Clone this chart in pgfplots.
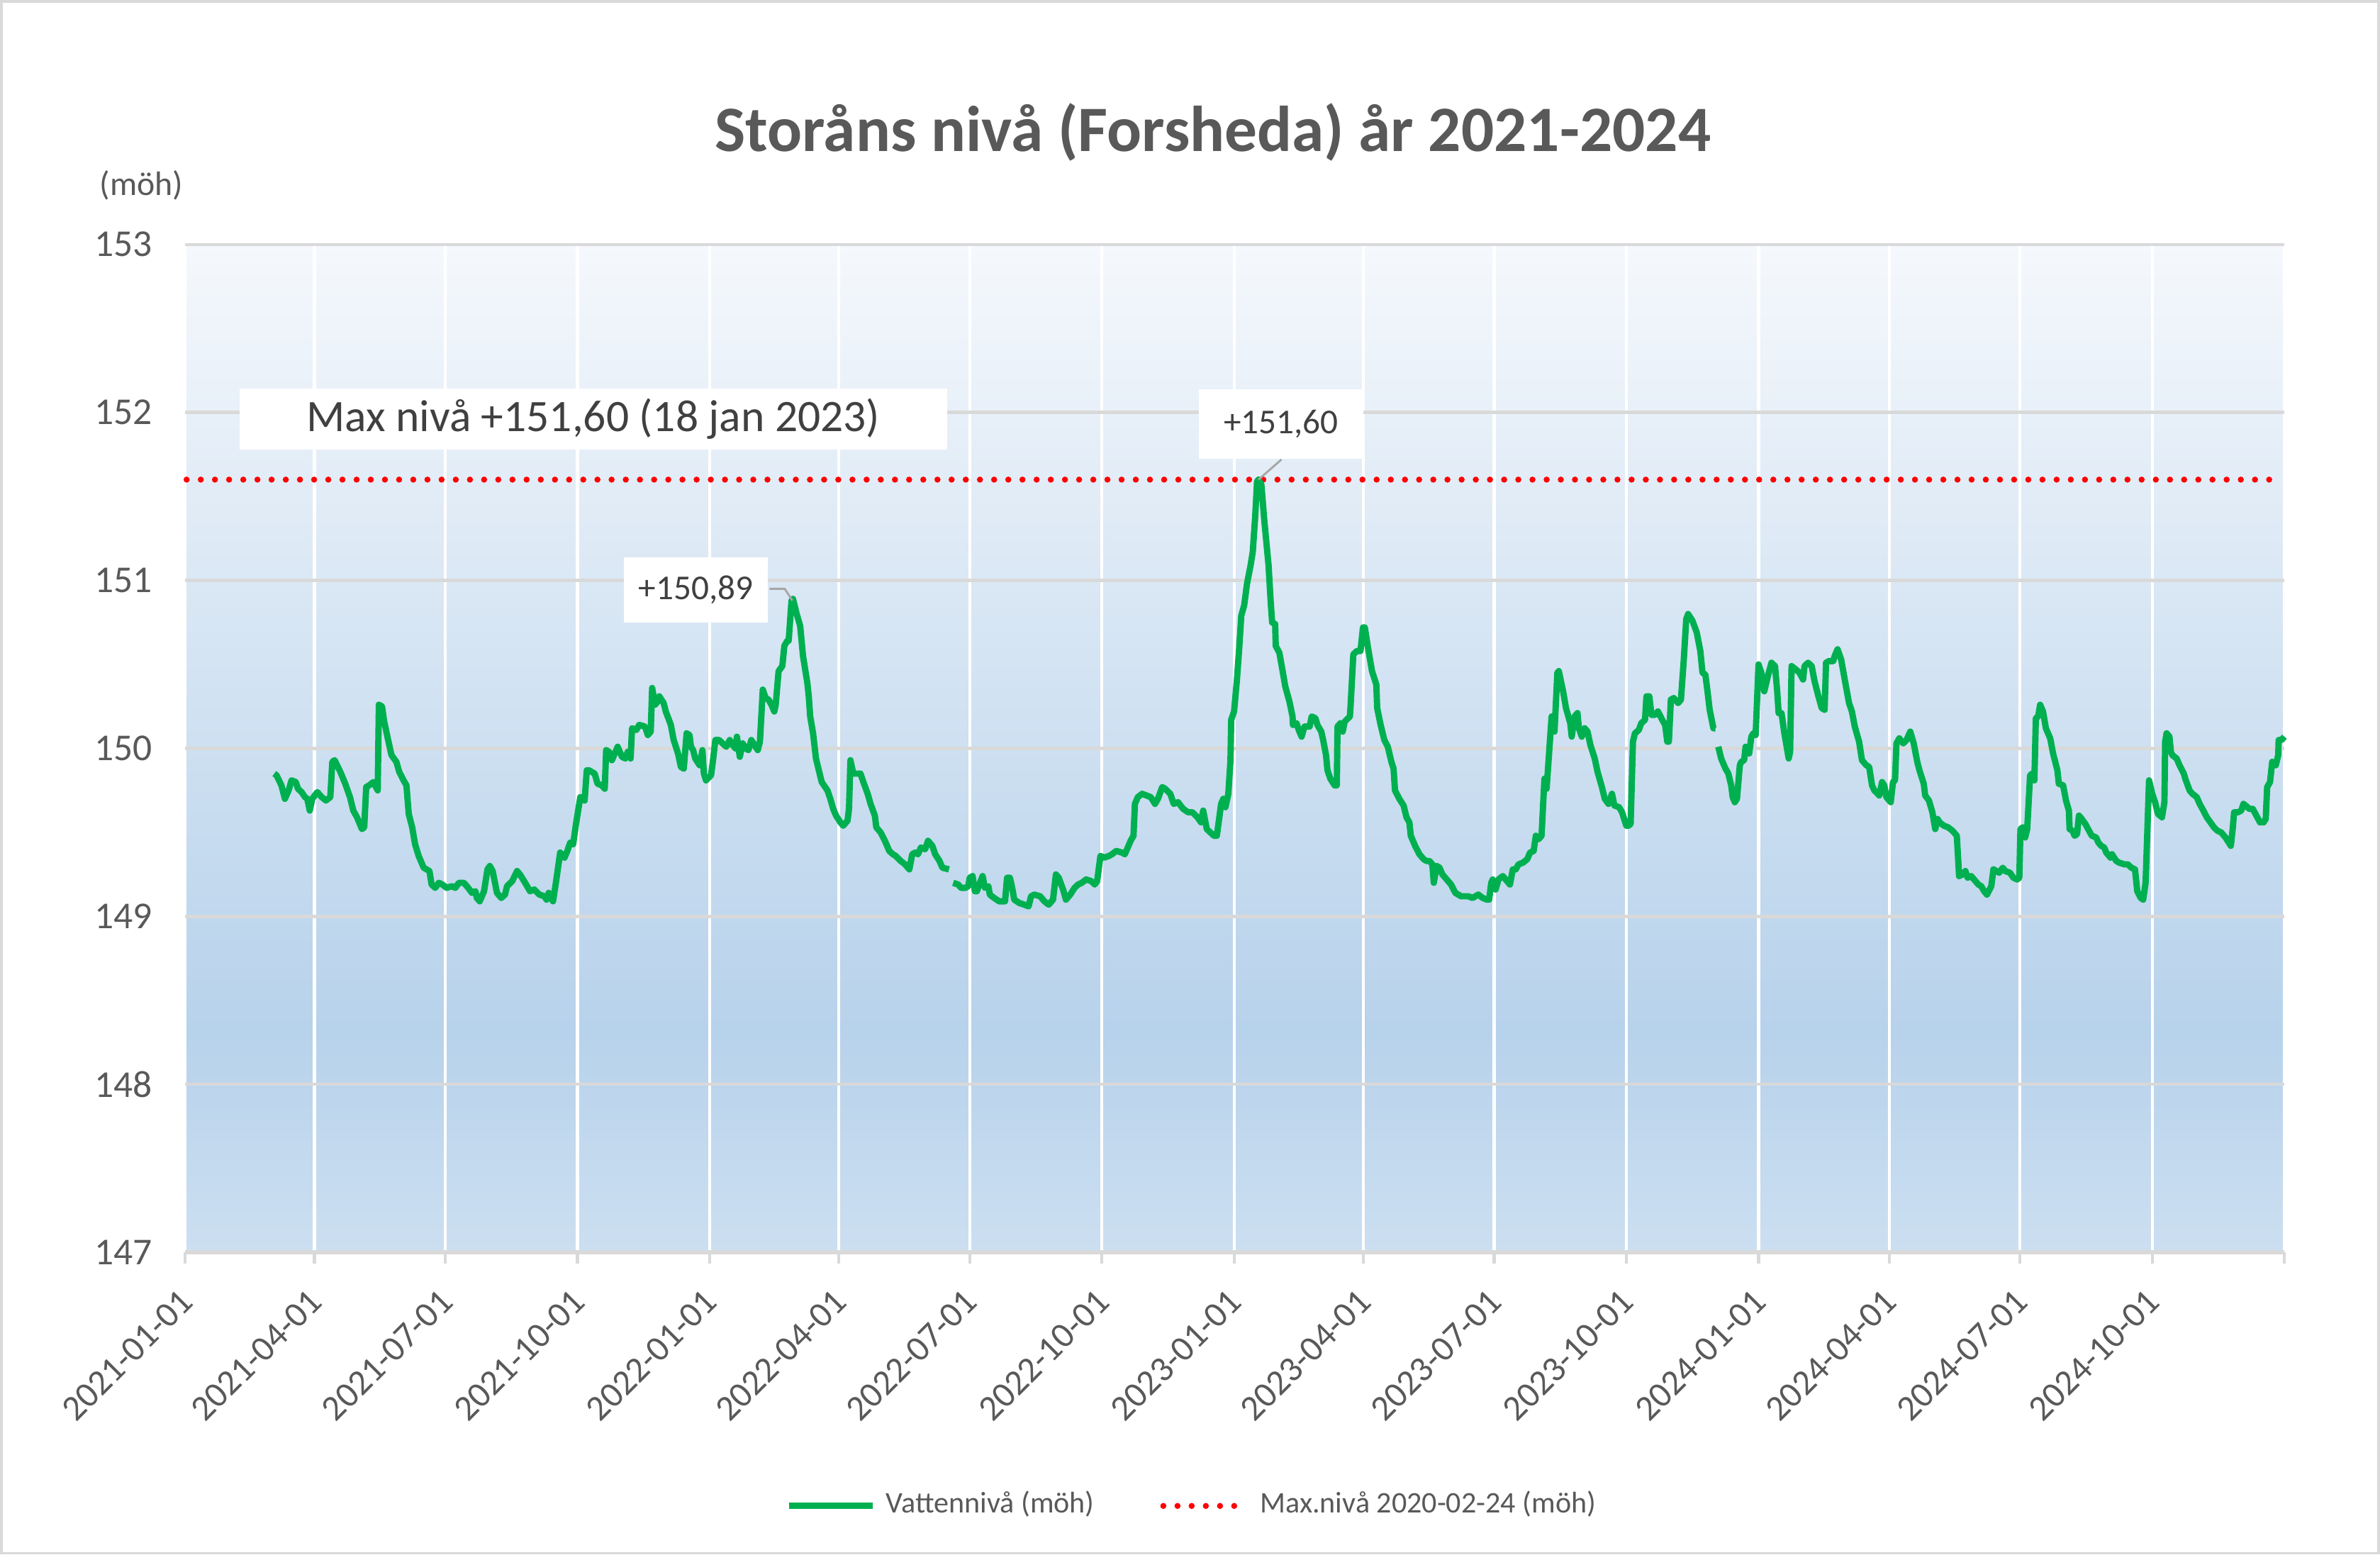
\documentclass[border=0pt]{standalone}
\usepackage{fontspec}
\setmainfont{Carlito}
\usepackage{pgfplots}
\usepackage{pgfplotstable}
\pgfplotsset{compat=1.18}
\definecolor{lgreen}{HTML}{00B050}
\definecolor{lred}{HTML}{FF0000}
\definecolor{txtgray}{HTML}{595959}
\definecolor{anngray}{HTML}{404040}
\definecolor{gridgray}{HTML}{D9D9D9}
\definecolor{bgtop}{HTML}{F5F8FC}
\definecolor{bgmid}{HTML}{B7D2EB}
\definecolor{bgbot}{HTML}{CCDFF1}
\pgfdeclareverticalshading{plotbg}{100bp}{color(0bp)=(bgbot); color(25bp)=(bgbot); color(36bp)=(bgmid); color(75bp)=(bgtop); color(100bp)=(bgtop)}

\pgfplotstableread{
day level
62 149.85
63.6 149.84
67 149.78
69.4 149.70
72 149.75
74 149.81
77 149.80
78.5 149.76
81 149.74
83.4 149.71
85 149.70
86.7 149.63
88.4 149.70
92 149.74
95 149.71
98 149.69
101 149.71
102.4 149.92
104 149.93
108 149.86
111.4 149.79
114.7 149.71
117 149.63
119.6 149.59
123 149.52
124.6 149.53
126 149.77
128 149.78
131 149.80
134 149.75
134.8 150.26
137 150.25
138.5 150.16
141 150.06
143.6 149.96
147 149.92
149 149.86
152 149.81
154 149.78
155.6 149.61
158 149.53
160 149.43
162.5 149.36
166 149.29
170 149.27
171.5 149.19
174 149.17
176.5 149.20
179 149.19
182 149.17
185.6 149.18
188 149.17
190.5 149.20
194 149.20
197 149.17
199.6 149.14
202 149.15
203 149.11
205 149.09
208 149.15
210.4 149.28
212 149.30
214 149.27
217 149.14
220 149.11
222.6 149.13
224 149.18
227.6 149.21
231 149.27
233 149.25
236.6 149.20
240 149.15
243 149.16
246.5 149.13
250 149.12
251.5 149.10
253 149.14
256 149.09
258 149.20
259 149.26
261 149.38
264 149.35
266 149.39
268 149.44
270 149.43
272 149.55
275 149.71
278 149.69
279.5 149.87
281 149.87
285 149.85
287 149.79
290 149.78
292 149.76
293 149.99
295 149.98
297 149.93
301 150.01
304 149.95
306.4 149.94
308 149.98
310 149.94
311 150.12
314 150.11
316 150.14
320 150.13
322 150.08
324 150.10
325 150.36
327 150.26
329 150.28
330 150.31
333 150.27
334.5 150.22
338 150.14
340 150.05
343 149.97
345 149.89
347 149.88
349 150.09
351 150.08
352 150.01
353.5 149.99
355 149.94
358 149.90
360 149.99
361 149.85
362.5 149.81
366 149.84
367.5 149.94
369 150.05
371.6 150.05
374 150.03
376.6 150.01
379 150.05
381 150.02
383 150.00
384 150.07
386 149.95
388 150.03
390 150.00
392 149.99
394 150.05
395.5 150.03
398.5 149.99
400 150.04
402 150.35
404 150.30
406 150.29
408 150.26
410 150.22
411 150.26
413 150.46
415.6 150.49
417 150.61
419 150.64
420 150.64
422 150.88
423 150.89
425.6 150.80
428 150.73
430 150.55
433 150.39
434 150.31
435 150.19
437 150.09
439 149.94
441 149.87
443 149.80
447 149.75
449 149.70
451 149.64
453 149.60
456 149.56
458 149.54
461 149.57
462 149.64
463 149.93
465 149.85
466.5 149.85
470 149.85
472 149.80
475 149.73
477 149.67
480 149.60
481 149.53
484 149.50
487 149.45
490 149.39
492.6 149.37
494.5 149.36
498 149.33
501 149.31
504 149.28
506 149.37
508 149.38
510 149.37
512 149.41
515 149.40
517 149.45
520 149.42
522 149.37
525 149.33
527 149.29
531.6 149.28
533 nan
534.5 149.20
538 149.19
540 149.17
543 149.17
545 149.18
546 149.23
548 149.24
549.6 149.15
551 149.15
553.6 149.21
555 149.24
556.6 149.17
559 149.18
560 149.13
563 149.11
566.5 149.09
570.6 149.09
572 149.23
574 149.23
575.6 149.17
577 149.10
580.5 149.08
584 149.07
587 149.06
588.7 149.12
591 149.13
595 149.12
598 149.09
601 149.07
604 149.10
606 149.25
608 149.23
611 149.16
613 149.10
616 149.13
619 149.17
621.5 149.19
624 149.20
627 149.22
630.6 149.21
633 149.19
634.7 149.21
637 149.36
639.6 149.35
643 149.36
645 149.37
648 149.39
652 149.38
654 149.37
656 149.41
658 149.45
660 149.48
661 149.67
663 149.71
666 149.73
669 149.72
672 149.71
675 149.67
677 149.70
680 149.77
682 149.76
685.6 149.73
688 149.67
691 149.68
694.6 149.64
698 149.62
701 149.62
704.5 149.59
707 149.56
708.5 149.63
711 149.52
713.5 149.50
716 149.48
718 149.48
721 149.67
722.5 149.70
724 149.65
726 149.73
727.5 149.93
728 150.17
730 150.22
732 150.41
733.6 150.60
735 150.79
737 150.85
739 150.98
741.5 151.09
743 151.17
744.7 151.38
746 151.59
747 151.60
749 151.57
751 151.36
754 151.09
755.5 150.87
756.5 150.75
758.6 150.74
759 150.61
761.5 150.57
764 150.45
765.6 150.37
768.5 150.28
770.7 150.19
771 150.14
773.5 150.15
775 150.11
777 150.07
779 150.13
782.6 150.13
784 150.19
786.6 150.18
788 150.14
790.7 150.10
792 150.05
794 149.96
795 149.87
797 149.82
800 149.78
801.5 149.78
802 150.13
804 150.15
805.6 150.10
807 150.16
810.6 150.19
811 150.24
813 150.56
815.5 150.58
818 150.58
819.7 150.72
821 150.72
823 150.61
824.6 150.53
826 150.46
829 150.38
829.6 150.24
832 150.14
834.6 150.05
837 150.01
839.5 149.92
841 149.88
842 149.75
845 149.70
848 149.66
850 149.59
852 149.56
853 149.48
856 149.42
859 149.37
862 149.34
864 149.33
866 149.33
868 149.31
869 149.20
871 149.30
873 149.29
875 149.25
878 149.22
881 149.19
884 149.14
888 149.12
893 149.12
896 149.11
900 149.13
903 149.11
906 149.10
907.5 149.10
909 149.20
910 149.22
912 149.16
914 149.22
917 149.24
920 149.21
922 149.19
924 149.28
926 149.28
928 149.31
931 149.32
934 149.34
936 149.38
938.5 149.39
940 149.48
942 149.46
944 149.48
946 149.82
947.5 149.76
948 149.82
951 150.19
953 150.10
955 150.45
956 150.46
959 150.34
961 150.24
964 150.15
965 150.07
967 150.19
969 150.21
970 150.12
972 150.07
974 150.12
976 150.10
978 150.02
981 149.94
983 149.86
986 149.77
988 149.70
990.6 149.67
993 149.73
994.7 149.66
998 149.65
1000 149.62
1003 149.54
1004.5 149.54
1006 149.55
1007.6 150.04
1009 150.09
1011.7 150.11
1013.4 150.15
1016 150.17
1017 150.31
1019 150.31
1020.5 150.20
1023 150.20
1025 150.22
1028 150.17
1030 150.14
1031.5 150.04
1032.6 150.04
1034 150.29
1036 150.30
1039 150.27
1041 150.29
1043 150.53
1044.7 150.77
1046 150.80
1049 150.76
1052 150.69
1054.5 150.58
1056 150.45
1058 150.44
1059.5 150.34
1061 150.23
1063.6 150.12
1065 150.12
1066 nan
1067 150.01
1069 149.94
1072 149.88
1074 149.85
1076 149.78
1077 149.71
1078.5 149.68
1080 149.70
1082 149.90
1083 149.92
1085 149.93
1086 150.01
1088.5 149.97
1090 150.07
1091.4 150.09
1093 150.08
1095 150.50
1097 150.45
1099 150.34
1101.5 150.43
1104 150.51
1106.5 150.49
1108 150.34
1109 150.21
1111 150.21
1113 150.09
1116 149.94
1117 149.98
1118 150.49
1121 150.47
1123.6 150.45
1126 150.41
1127 150.49
1129.5 150.51
1132 150.49
1134 150.40
1136.7 150.31
1139 150.24
1141 150.23
1142 150.51
1144 150.52
1147 150.52
1148 150.55
1150 150.59
1152.5 150.53
1155 150.41
1158 150.27
1160 150.22
1162 150.13
1165 150.04
1167 149.93
1170 149.90
1172 149.89
1174 149.78
1175.6 149.75
1178 149.73
1179 149.72
1181 149.80
1182.5 149.78
1184 149.71
1187 149.68
1188.6 149.80
1190 149.81
1191 150.03
1193 150.06
1195.7 150.03
1198 150.05
1200.6 150.10
1203 150.03
1205.5 149.92
1207 149.87
1210 149.79
1211 149.72
1213.6 149.69
1216 149.62
1218 149.52
1219.6 149.58
1221 149.56
1224 149.54
1227 149.53
1230 149.51
1233 149.48
1234.6 149.24
1237 149.25
1239 149.27
1240.5 149.23
1243 149.24
1245 149.22
1248 149.19
1250 149.18
1252 149.15
1254 149.13
1257 149.18
1258.5 149.28
1260.6 149.27
1262.5 149.26
1265 149.29
1266.7 149.27
1270 149.26
1272.4 149.23
1275 149.22
1276.5 149.23
1277.3 149.52
1279 149.53
1280.6 149.47
1282 149.52
1284 149.84
1285.5 149.85
1287 149.81
1288 150.18
1289.6 150.19
1291 150.26
1293 150.22
1295 150.12
1298 150.06
1300 149.97
1303 149.87
1304 149.79
1307 149.78
1309 149.69
1311 149.63
1311.5 149.52
1313.5 149.51
1315 149.48
1316.7 149.49
1318 149.60
1320 149.58
1322.5 149.55
1325 149.51
1327 149.48
1330 149.47
1331.5 149.44
1333.5 149.42
1335.6 149.41
1337 149.38
1340 149.35
1341 149.37
1344 149.33
1346 149.32
1349.6 149.31
1352 149.31
1354.5 149.29
1357 149.28
1358.6 149.15
1361 149.11
1362.7 149.10
1364.4 149.20
1366.8 149.81
1369 149.73
1371 149.68
1373 149.61
1375.8 149.59
1377.5 149.68
1378 150.04
1379 150.09
1381 150.07
1382 149.98
1383 149.96
1386 149.94
1388 149.90
1391 149.85
1392 149.82
1395 149.75
1397 149.73
1400 149.71
1402 149.67
1404.6 149.63
1407 149.59
1409.5 149.56
1412 149.53
1414.4 149.51
1417 149.50
1420 149.47
1423 149.43
1423.7 149.42
1425 149.52
1426 149.62
1428.7 149.62
1431 149.63
1432.5 149.67
1434 149.66
1436.6 149.64
1439 149.64
1441.5 149.60
1444 149.56
1446.5 149.56
1448 149.58
1449 149.77
1451 149.80
1452.5 149.92
1455 149.90
1456.7 149.96
1457 150.05
1459 150.05
1461 150.07
}\vattendata

\begin{document}
\begin{tikzpicture}
% outer frame (sets the picture size)
\draw[gridgray, line width=0.5pt, fill=white] (-36.35pt,-59.45pt) rectangle (433.55pt,247.25pt);
\begin{axis}[
  at={(0pt,0pt)}, anchor=south west,
  scale only axis, width=414.9pt, height=199.2pt,
  xmin=0, xmax=1461, ymin=147, ymax=153,
  axis background/.style={shade, shading=plotbg},
  axis x line*=bottom, axis y line*=left,
  x axis line style={draw=gridgray, line width=0.8pt, -},
  y axis line style={draw=none},
  xtick={0,90,181,273,365,455,546,638,730,820,911,1003,1095,1186,1277,1369,1461},
  xticklabels={2021-01-01,2021-04-01,2021-07-01,2021-10-01,2022-01-01,2022-04-01,2022-07-01,2022-10-01,2023-01-01,2023-04-01,2023-07-01,2023-10-01,2024-01-01,2024-04-01,2024-07-01,2024-10-01},
  ytick={147,148,149,150,151,152,153},
  tick align=outside,
  x tick style={draw=gridgray, line width=0.6pt},
  y tick style={draw=none},
  major tick length=2.2pt,
  xmajorgrids, ymajorgrids,
  x grid style={draw=white, line width=0.6pt},
  y grid style={draw=gridgray, line width=0.6pt},
  /pgf/number format/assume math mode=true,
  yticklabel style={font=\fontsize{7.5}{8.5}\selectfont, text=txtgray, xshift=-0.8pt},
  xticklabel style={font=\fontsize{7.1}{8}\selectfont, text=txtgray, rotate=45, anchor=north east, inner sep=1pt, yshift=-1.2pt, xshift=-3.2pt},
  unbounded coords=jump,
  clip=false,
]
\addplot[lred, line width=1.2pt, line cap=round, dash pattern=on 0pt off 2.8pt] coordinates {(1,151.6) (1459,151.6)};
\addplot[lgreen, line width=1.25pt, line join=round] table[x=day, y=level] {\vattendata};
% leader lines
\draw[gray!70, line width=0.4pt] (axis cs:747,151.6) -- (axis cs:763,151.72);
\draw[gray!70, line width=0.4pt] (axis cs:406.7,150.95) -- (axis cs:417.3,150.95) -- (axis cs:422.6,150.88);
% annotation boxes
\node[fill=white, inner sep=0pt, minimum width=139.8pt, minimum height=12pt, text=anngray, font=\fontsize{8.9}{10}\selectfont] at (axis cs:284,151.96) {Max nivå +151,60 (18 jan 2023)};
\node[fill=white, inner sep=0pt, minimum width=32.4pt, minimum height=13.8pt, text=anngray, font=\fontsize{6.9}{8}\selectfont] at (axis cs:762.7,151.93) {+151,60};
\node[fill=white, inner sep=0pt, minimum width=28.5pt, minimum height=12.9pt, text=anngray, font=\fontsize{6.9}{8}\selectfont] at (axis cs:355.5,150.944) {+150,89};
\end{axis}
\begin{axis}[
  at={(0pt,0pt)}, anchor=south west,
  scale only axis, width=414.9pt, height=199.2pt,
  xmin=0, xmax=1461, ymin=147, ymax=153,
  hide axis,
  legend style={at={(0.4816,-0.2515)}, anchor=center, draw=none, fill=none,
    font=\fontsize{5.9}{7}\selectfont, text=txtgray,
    /tikz/every even column/.append style={column sep=11pt}},
  legend columns=2,
  legend image code/.code={\draw[#1] (0pt,0pt) -- (16.5pt,0pt);},
]
\addlegendimage{lgreen, line width=1.25pt}
\addlegendentry{Vattennivå (möh)}
\addlegendimage{lred, line width=1.2pt, line cap=round, dash pattern=on 0pt off 2.8pt}
\addlegendentry{Max.nivå 2020-02-24 (möh)}
\end{axis}
\node[font=\bfseries\fontsize{12.8}{15}\selectfont, text=txtgray] at (203.1pt,221.4pt) {Storåns nivå (Forsheda) år 2021-2024};
\node[font=\fontsize{6.7}{8}\selectfont, text=txtgray, anchor=west, inner sep=0pt] at (-17.1pt,210.9pt) {(möh)};
\end{tikzpicture}
\end{document}
